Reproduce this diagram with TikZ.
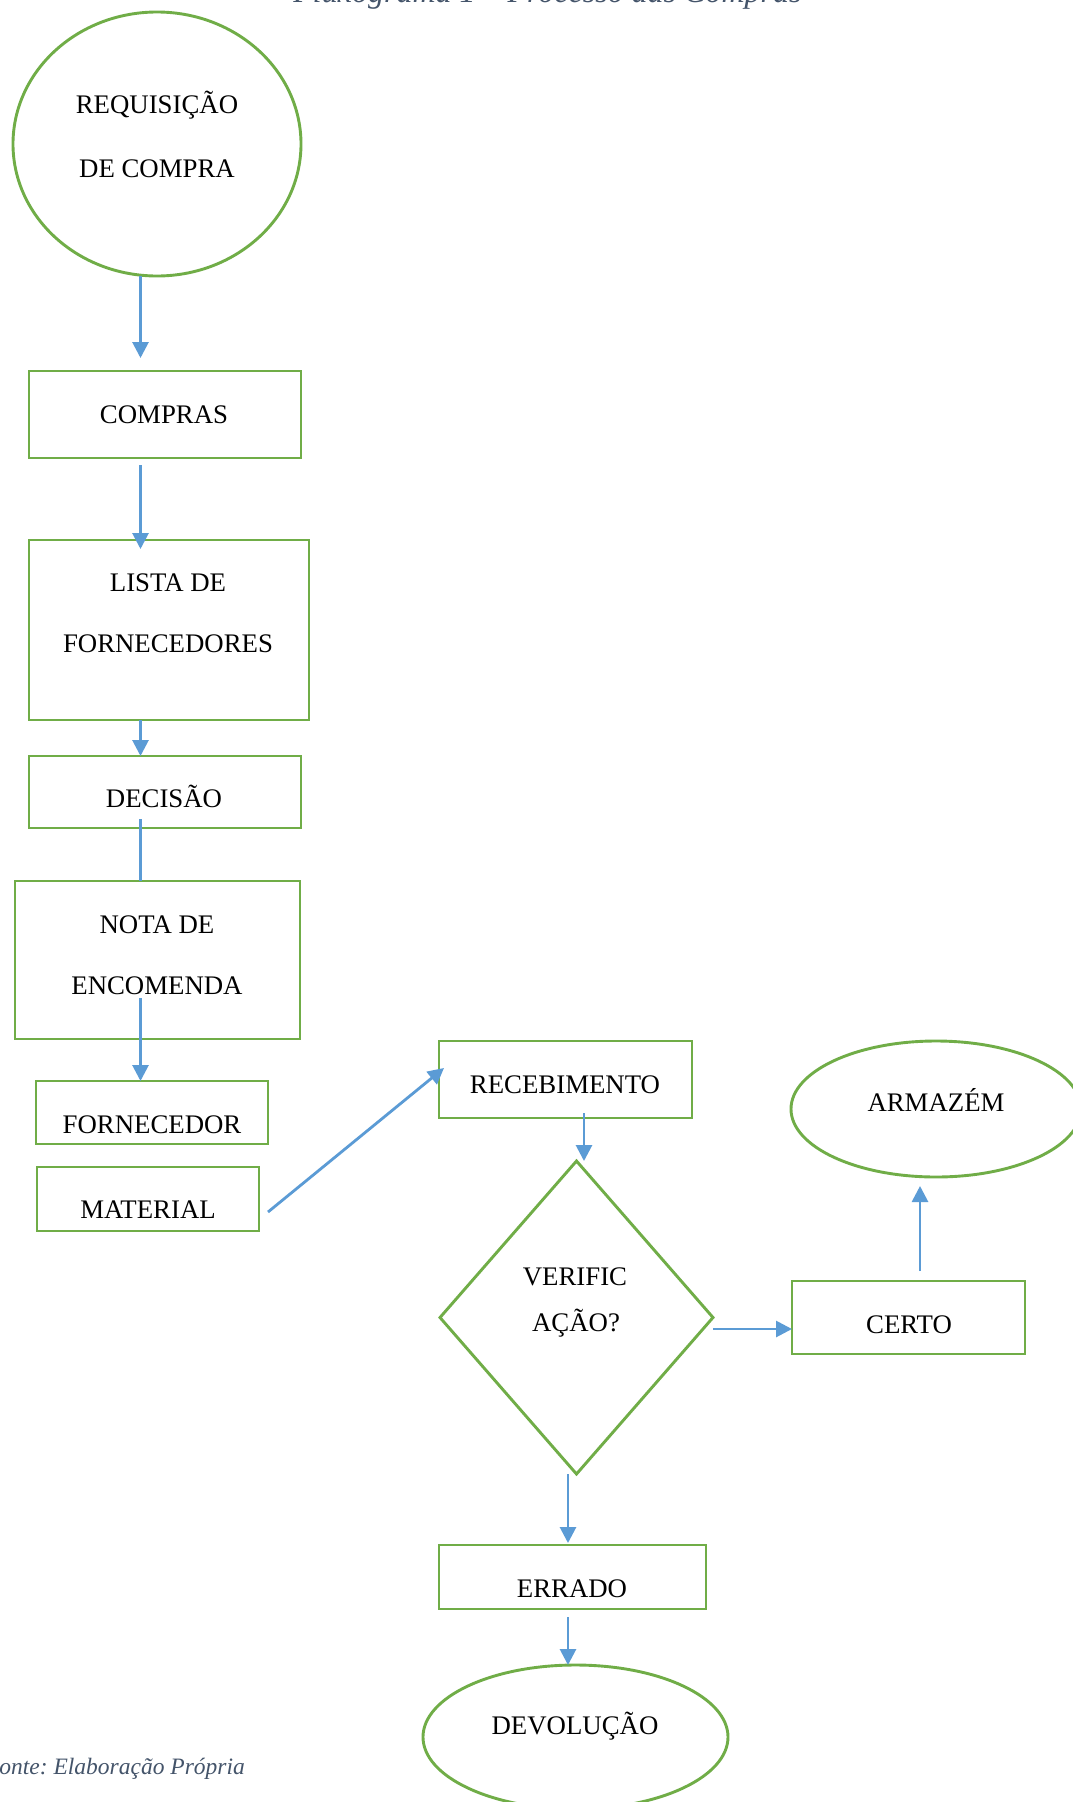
\documentclass[tikz,border=0pt]{standalone}
\usepackage{fontspec}
\setmainfont{Liberation Serif}
\frenchspacing
\usetikzlibrary{shapes.geometric,arrows.meta,calc}
\definecolor{flowgreen}{HTML}{70AD47}
\definecolor{flowblue}{HTML}{5B9BD5}
\definecolor{notegrey}{HTML}{44546A}
\begin{document}
\begin{tikzpicture}[x=1pt,y=-1pt,
  shapeline/.style={draw=flowgreen,line width=2.9pt,inner sep=0pt,outer sep=0pt},
  box/.style={shapeline,rectangle},
  oval/.style={shapeline,ellipse},
  choice/.style={shapeline,diamond},
  lbl/.style={font=\fontsize{26.8}{30}\selectfont,anchor=base,inner sep=0pt},
  flow/.style={draw=flowblue,line width=2.8pt},
  arr/.style={flow,-{Triangle[length=16pt,width=16pt]}},
  note/.style={text=notegrey,inner sep=0pt}]
\useasboundingbox (0,0) rectangle (1072,1802);
\fill[white] (0,0) rectangle (1072,1802);

% heading and source line
\node[note,font=\itshape\fontsize{32}{36}\selectfont,anchor=base] (title) at (547.5,2.5) {Fluxograma 1 – Processo das Compras};
\node[note,font=\itshape\fontsize{23.5}{28}\selectfont,anchor=base east] (source) at (245,1774) {Fonte: Elaboração Própria};

% left column
\node[oval,minimum width=288pt,minimum height=264pt] (req) at (157,144) {};
\node[lbl] (reqA) at (157,113) {REQUISIÇÃO};
\node[lbl] (reqB) at (157,177) {DE COMPRA};

\node[box,minimum width=272pt,minimum height=87pt] (comp) at (165,414.5) {};
\node[lbl] (compT) at (164,423) {COMPRAS};

\node[box,minimum width=280pt,minimum height=180pt] (list) at (169,630) {};
\node[lbl] (listA) at (168,591) {LISTA DE};
\node[lbl] (listB) at (168,652) {FORNECEDORES};

\node[box,minimum width=272pt,minimum height=72pt] (dec) at (165,792) {};
\node[lbl] (decT) at (164,807) {DECISÃO};

\node[box,minimum width=285pt,minimum height=158pt] (nota) at (157.5,960) {};
\node[lbl] (notaA) at (157,933) {NOTA DE};
\node[lbl] (notaB) at (157,994) {ENCOMENDA};

\node[box,minimum width=232pt,minimum height=63pt] (forn) at (152,1112.5) {};
\node[lbl] (fornT) at (152,1133) {FORNECEDOR};

\node[box,minimum width=222pt,minimum height=64pt] (mat) at (148,1199) {};
\node[lbl] (matT) at (148,1218) {MATERIAL};

% right part
\node[box,minimum width=253pt,minimum height=77pt] (rec) at (565.5,1079.5) {};
\node[lbl] (recT) at (565,1093) {RECEBIMENTO};

\node[choice,minimum width=273pt,minimum height=313pt] (dia) at (576.5,1317.5) {};
\node[lbl] (diaA) at (575,1285) {VERIFIC};
\node[lbl] (diaB) at (576,1331) {AÇÃO?};

\node[box,minimum width=233pt,minimum height=73pt] (certo) at (908.5,1317.5) {};
\node[lbl] (certoT) at (909,1333) {CERTO};

\node[oval,minimum width=290pt,minimum height=136pt] (arm) at (936,1109) {};
\node[lbl] (armT) at (936,1111) {ARMAZÉM};

\node[box,minimum width=267pt,minimum height=64pt] (err) at (572.5,1577) {};
\node[lbl] (errT) at (572,1597) {ERRADO};

\node[oval,minimum width=305pt,minimum height=144pt] (dev) at (575.5,1737) {};
\node[lbl] (devT) at (575,1734) {DEVOLUÇÃO};

% connectors
\coordinate (spine) at (140.5,0);
\coordinate (rx) at (584,0);
\coordinate (cy) at (0,1329);
\coordinate (ax) at (920,0);
\coordinate (ex) at (568,0);
\coordinate (matout) at ($(mat.east)+(9,13)$);
\coordinate (recin) at ($(rec.west)+(5,-11.5)$);

\draw[arr,shorten >=13pt] (req.south -| spine) -- (comp.north -| spine);
\draw[arr,shorten <=7pt,shorten >=-9pt] (comp.south -| spine) -- (list.north -| spine);
\draw[arr] (list.south -| spine) -- (dec.north -| spine);
\draw[flow,shorten <=-9pt] (dec.south -| spine) -- (nota.north -| spine);
\draw[arr,shorten <=-41pt] (nota.south -| spine) -- (forn.north -| spine);
\draw[arr] (matout) -- (recin);
\draw[arr,shorten <=-5pt] (rec.south -| rx) -- (dia.north -| rx);
\draw[arr] (dia.east |- cy) -- (certo.west |- cy);
\draw[arr,shorten <=10pt,shorten >=9pt] (certo.north -| ax) -- (arm.south -| ax);
\draw[arr,shorten >=2pt] (dia.south -| ex) -- (err.north -| ex);
\draw[arr,shorten <=8pt] (err.south -| ex) -- (dev.north -| ex);
\end{tikzpicture}
\end{document}
